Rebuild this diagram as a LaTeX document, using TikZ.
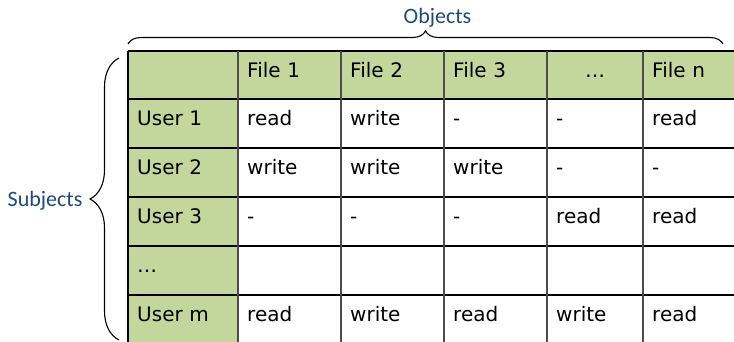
\documentclass[tikz,border=0pt]{standalone}
\usepackage{fontspec}
\setmainfont{DejaVu Sans}
\newfontfamily\labelfont{Carlito}
\usetikzlibrary{decorations.pathreplacing,positioning}
\definecolor{headgreen}{RGB}{195,214,155}
\definecolor{labelblue}{RGB}{31,73,125}

\begin{document}
\begin{tikzpicture}[x=1pt, y=-1pt,
  cellbox/.style={anchor=north west, minimum height=49pt, inner xsep=9pt, inner ysep=0pt,
    align=left, text height=14pt, text depth=11pt, font=\fontsize{20}{22}\selectfont},
  head/.style={cellbox, fill=headgreen},
  body/.style={cellbox, fill=white},
  hline/.style={line width=1.4pt, black},
  vline/.style={line width=1.8pt, black!70},
  brace/.style={decorate, line width=1.1pt, decoration={brace, amplitude=#1}},
  sidelabel/.style={font=\labelfont\fontsize{22}{24}\selectfont, text=labelblue},
]
\useasboundingbox (0,0) rectangle (734,341);

% header row
\foreach \c/\x/\w/\t in {0/128/110/{},1/238/103/File 1,2/341/103/File 2,3/444/103/File 3,4/547/96/{},5/643/107/File n}
  \node[head, minimum width=\w, text width=\w-18] (h\c) at (\x,51) {\t};
\node[font=\fontsize{20}{22}\selectfont, text height=14pt, text depth=11pt] (hdots) at (h4.center) {…};

% first column
\foreach \r/\y/\t in {1/99/User 1,2/148/User 2,3/197/User 3,4/246/…,5/295/User m}
  \node[head, minimum width=110, text width=92] (u\r) at (128,\y) {\t};

% access rights
\foreach \r/\y in {1/99,2/148,3/197,4/246,5/295}{
  \foreach \c/\x/\w in {1/238/103,2/341/103,3/444/103,4/547/96,5/643/107}
    \node[body, minimum width=\w, text width=\w-18] (r\r c\c) at (\x,\y) {};
}
\foreach \c/\t in {1/read,2/write,3/-,4/-,5/read}
  \node[cellbox, anchor=west] at (r1c\c.west) {\t};
\foreach \c/\t in {1/write,2/write,3/write,4/-,5/-}
  \node[cellbox, anchor=west] at (r2c\c.west) {\t};
\foreach \c/\t in {1/-,2/-,3/-,4/read,5/read}
  \node[cellbox, anchor=west] at (r3c\c.west) {\t};
\foreach \c/\t in {1/read,2/write,3/read,4/write,5/read}
  \node[cellbox, anchor=west] at (r5c\c.west) {\t};

% grid
\foreach \y in {51,99,148,197,246,295}
  \draw[hline] (128,\y) -- (750,\y);
\foreach \x in {238,341,444,547,643}
  \draw[vline] (\x,51) -- (\x,345);
\draw[hline] (128,51) -- (128,345);

% braces
\coordinate (objL) at (128,44);
\coordinate (objR) at (723,44);
\coordinate (subB) at (119,340);
\coordinate (subT) at (119,58);
\draw[brace=13pt] (objL) -- (objR) node[midway, above=16pt, xshift=12pt, sidelabel, inner sep=0pt] (objects) {Objects};
\draw[brace=29pt] (subB) -- (subT) node[midway, left=36pt, yshift=-2pt, sidelabel, inner sep=0pt] (subjects) {Subjects};
\end{tikzpicture}
\end{document}
